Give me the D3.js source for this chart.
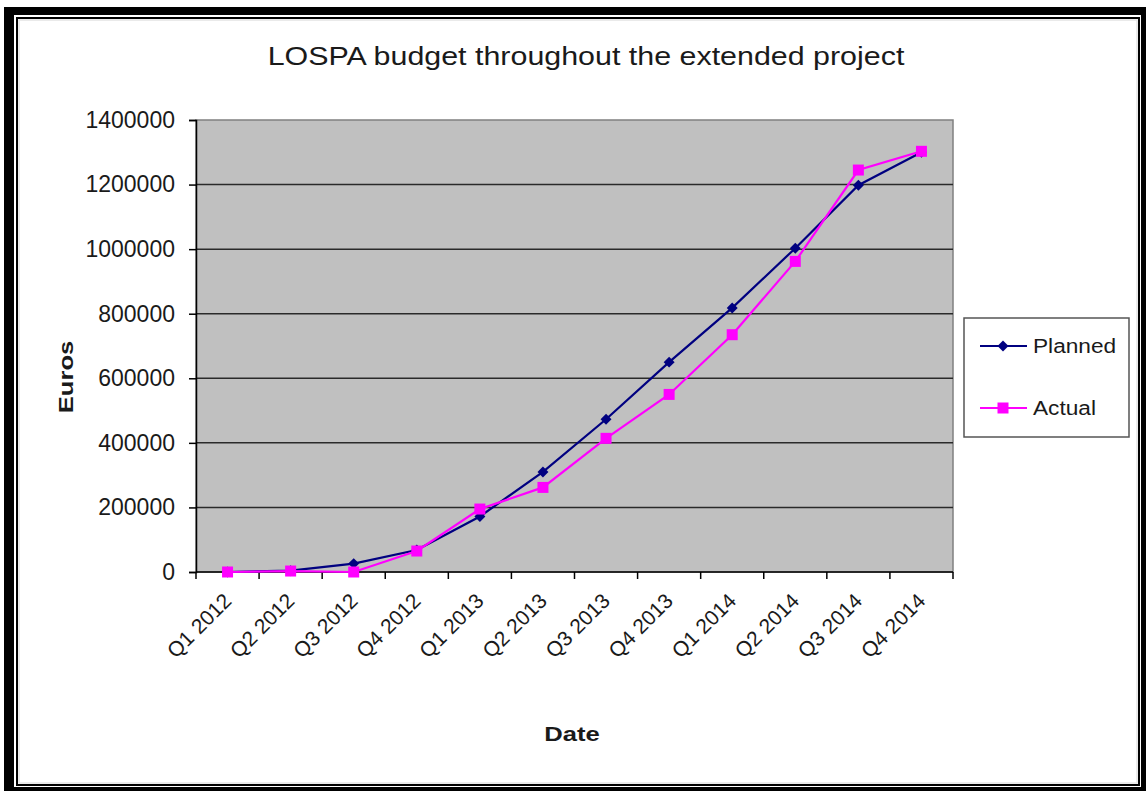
<html>
<head>
<script src="https://cdn.jsdelivr.net/npm/d3@7"></script>
<style>
body { margin: 0; background: #fff; }
text { font-family: "Liberation Sans", Arial, sans-serif; fill: #1a1a1a; }
</style>
</head>
<body>
<svg id="chart" width="1146" height="791"></svg>
<script>
// data
var quarters = ["Q1 2012", "Q2 2012", "Q3 2012", "Q4 2012",
                "Q1 2013", "Q2 2013", "Q3 2013", "Q4 2013",
                "Q1 2014", "Q2 2014", "Q3 2014", "Q4 2014"];
var planned = [0, 4000, 26000, 68000, 172000, 310000, 473000, 650000, 818000, 1003000, 1198000, 1300000];
var actual  = [0, 3000, 0, 65000, 195000, 262000, 414000, 550000, 735000, 962000, 1245000, 1303000];
var yTicks = [0, 200000, 400000, 600000, 800000, 1000000, 1200000, 1400000];

var svg = d3.select("#chart");

// outer frame
svg.append("rect").attr("x", 4).attr("y", 7).attr("width", 1142).attr("height", 784).attr("fill", "#000");
svg.append("rect").attr("x", 14).attr("y", 15).attr("width", 1127).attr("height", 772).attr("fill", "#fff");
svg.append("rect").attr("x", 17).attr("y", 18).attr("width", 1122).attr("height", 767)
  .attr("fill", "#fff").attr("stroke", "#000").attr("stroke-width", 2);
svg.append("rect").attr("x", 19).attr("y", 20).attr("width", 1118).attr("height", 763)
  .attr("fill", "none").attr("stroke", "#e4e4e4").attr("stroke-width", 1.5);

var plotLeft = 196, plotRight = 953, plotTop = 120, plotBottom = 572;

var x = d3.scaleBand().domain(quarters).range([plotLeft, plotRight]);
var y = d3.scaleLinear().domain([0, 1400000]).range([plotBottom, plotTop]);

// plot area
svg.append("rect")
  .attr("x", plotLeft).attr("y", plotTop).attr("width", plotRight - plotLeft).attr("height", plotBottom - plotTop)
  .attr("fill", "#c0c0c0").attr("stroke", "#808080").attr("stroke-width", 1.5);

// gridlines
svg.append("g").selectAll("line")
  .data(yTicks.slice(1, -1))
  .enter().append("line")
  .attr("x1", plotLeft).attr("x2", plotRight)
  .attr("y1", function(d) { return y(d); }).attr("y2", function(d) { return y(d); })
  .attr("stroke", "#2a2a2a").attr("stroke-width", 1.5);

// y axis
var yAxis = svg.append("g")
  .attr("transform", "translate(" + plotLeft + ",0)")
  .call(d3.axisLeft(y).tickValues(yTicks).tickFormat(d3.format("d")).tickSize(7).tickPadding(14));
yAxis.select(".domain").attr("stroke", "#000").attr("stroke-width", 1.5);
yAxis.selectAll(".tick line").attr("stroke", "#000").attr("stroke-width", 1.5);
yAxis.selectAll(".tick text").style("font-size", "23px").style("font-family", "'Liberation Sans', Arial, sans-serif")
  .attr("fill", "#1a1a1a");

// x axis: ticks on band edges
var edges = quarters.map(function(q) { return x(q); }).concat([x.range()[1]]);
svg.append("line").attr("x1", plotLeft).attr("x2", plotRight).attr("y1", plotBottom).attr("y2", plotBottom)
  .attr("stroke", "#000").attr("stroke-width", 1.5);
svg.append("g").selectAll("line")
  .data(edges)
  .enter().append("line")
  .attr("x1", function(d) { return d; }).attr("x2", function(d) { return d; })
  .attr("y1", plotBottom).attr("y2", plotBottom + 7)
  .attr("stroke", "#000").attr("stroke-width", 1.5);
svg.append("g").selectAll("text")
  .data(quarters)
  .enter().append("text")
  .attr("transform", function(d) {
    return "translate(" + (x(d) + x.bandwidth() / 2) + "," + (plotBottom + 25) + ") rotate(-45)";
  })
  .attr("text-anchor", "end")
  .attr("dy", "0.35em")
  .style("font-size", "21px")
  .text(function(d) { return d; });

// series
var series = [
  { name: "Planned", values: planned, color: "#000080", shape: "diamond" },
  { name: "Actual", values: actual, color: "#ff00ff", shape: "square" }
];

function marker(g, s, cx, cy) {
  if (s.shape === "diamond") {
    g.append("path")
      .attr("d", d3.symbol(d3.symbolSquare, 60)())
      .attr("transform", "translate(" + cx + "," + cy + ") rotate(45)")
      .attr("fill", s.color);
  } else {
    g.append("path")
      .attr("d", d3.symbol(d3.symbolSquare, 121)())
      .attr("transform", "translate(" + cx + "," + cy + ")")
      .attr("fill", s.color);
  }
}

var line = d3.line()
  .x(function(d, i) { return x(quarters[i]) + x.bandwidth() / 2; })
  .y(function(d) { return y(d); });

series.forEach(function(s) {
  var g = svg.append("g");
  g.append("path").attr("d", line(s.values))
    .attr("fill", "none").attr("stroke", s.color).attr("stroke-width", 2.2);
  s.values.forEach(function(v, i) {
    marker(g, s, x(quarters[i]) + x.bandwidth() / 2, y(v));
  });
});

// titles (the source text is drawn a little wider than the font metrics)
svg.append("text").attr("transform", "translate(586,65) scale(1.17,1)").attr("text-anchor", "middle")
  .style("font-size", "26px").text("LOSPA budget throughout the extended project");
svg.append("text").attr("transform", "translate(73,377) rotate(-90) scale(1.22,1)").attr("text-anchor", "middle")
  .style("font-size", "21px").style("font-weight", "bold").text("Euros");
svg.append("text").attr("transform", "translate(572,741) scale(1.22,1)").attr("text-anchor", "middle")
  .style("font-size", "21px").style("font-weight", "bold").text("Date");

// legend
var legend = svg.append("g");
legend.append("rect").attr("x", 964).attr("y", 318).attr("width", 165).attr("height", 119)
  .attr("fill", "#fff").attr("stroke", "#555").attr("stroke-width", 1.5);
series.forEach(function(s, i) {
  var ly = 346 + i * 62;
  legend.append("line").attr("x1", 980).attr("x2", 1027).attr("y1", ly).attr("y2", ly)
    .attr("stroke", s.color).attr("stroke-width", 2);
  marker(legend, s, 1003, ly);
  legend.append("text").attr("transform", "translate(1033," + ly + ") scale(1.08,1)").attr("dy", "0.35em")
    .style("font-size", "21px").text(s.name);
});
</script>
</body>
</html>
